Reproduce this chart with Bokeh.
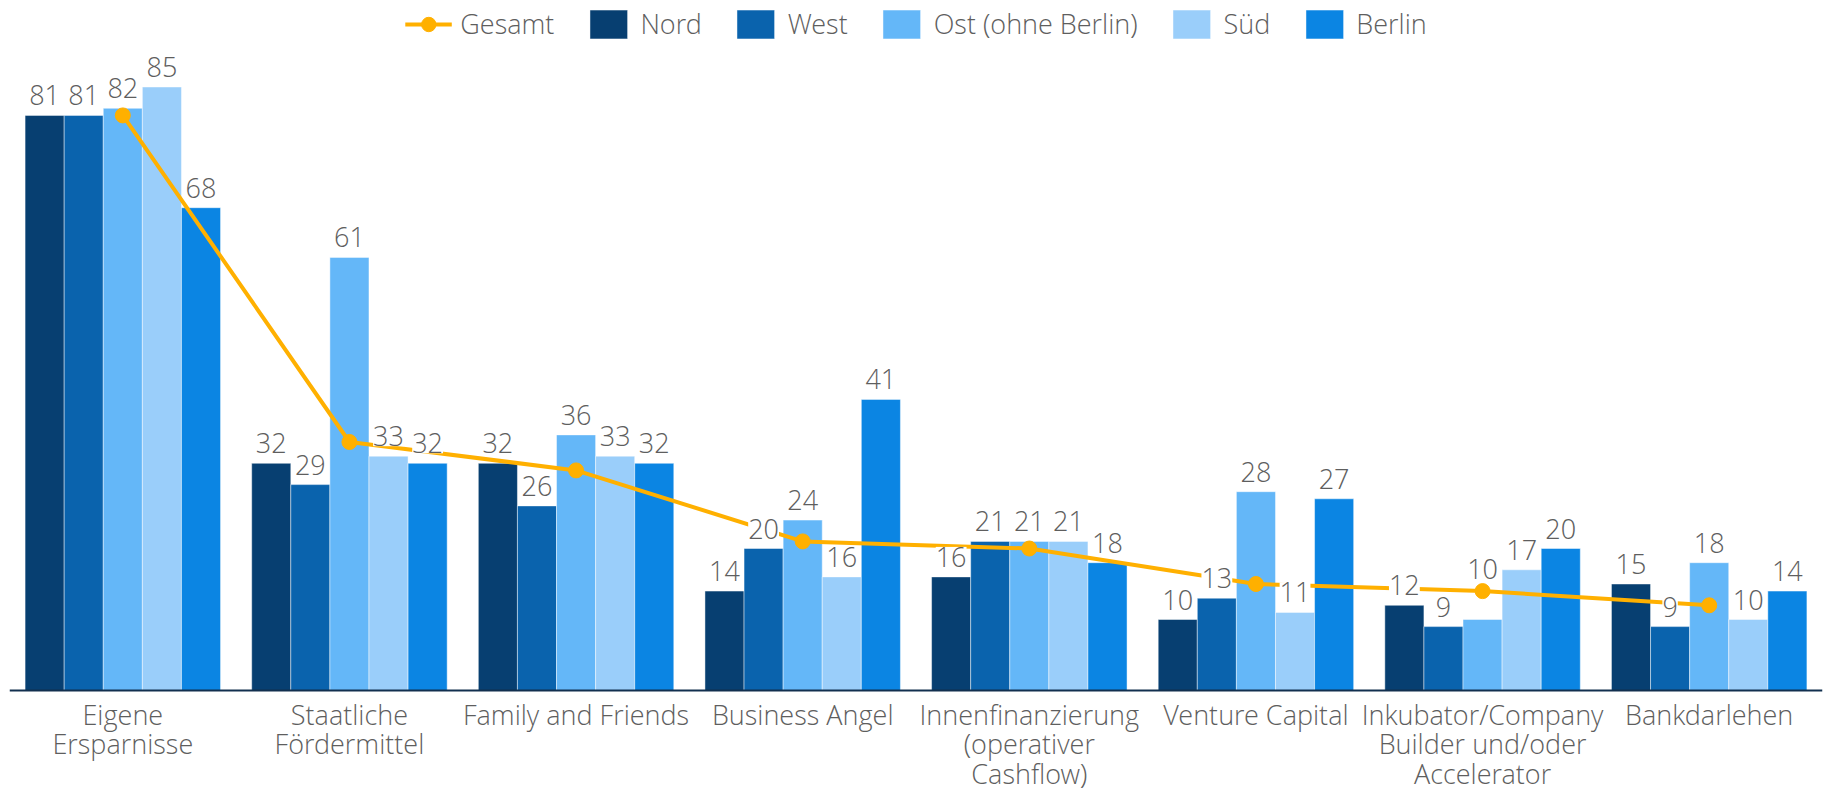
from bokeh.plotting import figure
from bokeh.models import (FactorRange, Range1d, ColumnDataSource, LabelSet, Legend,
                          LegendItem, Span)
from bokeh.transform import dodge
from bokeh.core.properties import value
from bokeh.embed import file_html
from bokeh.resources import INLINE

categories = [
    "Eigene Ersparnisse",
    "Staatliche Fördermittel",
    "Family and Friends",
    "Business Angel",
    "Innenfinanzierung (operativer Cashflow)",
    "Venture Capital",
    "Inkubator/Company Builder und/oder Accelerator",
    "Bankdarlehen",
]
tick_labels = [
    "Eigene\nErsparnisse",
    "Staatliche\nFördermittel",
    "Family and Friends",
    "Business Angel",
    "Innenfinanzierung\n(operativer\nCashflow)",
    "Venture Capital",
    "Inkubator/Company\nBuilder und/oder\nAccelerator",
    "Bankdarlehen",
]
series_names = ["Nord", "West", "Ost (ohne Berlin)", "Süd", "Berlin"]
nord = [81, 32, 32, 14, 16, 10, 12, 15]
west = [81, 29, 26, 20, 21, 13, 9, 9]
ost = [82, 61, 36, 24, 21, 28, 10, 18]
sued = [85, 33, 33, 16, 21, 11, 17, 10]
berlin = [68, 32, 32, 41, 18, 27, 20, 14]
gesamt = [81, 35, 31, 21, 20, 15, 14, 12]

colors = ["#073f71", "#0a63ad", "#64b7f8", "#9acefa", "#0b85e3"]
line_color = "#ffb000"
text_color = "#5e5e5e"
FONT = "Open Sans Light, Open Sans"
FS = "27px"

W, H = 1825, 793
BASE = 690.0          # pixel row of the zero line
PXU = 7.1             # pixels per percent
LABEL_GAP = 10        # px between bar top and label baseline
# labels lifted to avoid the Gesamt marker (series field, category index) -> extra px
label_lift = {("ost", 6): 31}

data = dict(cat=categories, gesamt=gesamt)
fields = ["nord", "west", "ost", "sued", "berlin"]
for f, vals in zip(fields, [nord, west, ost, sued, berlin]):
    data[f] = vals
    data[f + "_txt"] = [str(v) for v in vals]
    data[f + "_off"] = [LABEL_GAP + label_lift.get((f, i), 0) for i in range(len(vals))]
source = ColumnDataSource(data)

p = figure(
    x_range=FactorRange(factors=categories, range_padding=0),
    y_range=Range1d(-(H - BASE) / PXU, BASE / PXU),
    width=W, height=H,
    output_backend="svg", toolbar_location=None,
    x_axis_location=None, y_axis_location=None,
    min_border_left=9, min_border_right=3, min_border_top=0, min_border_bottom=0,
    outline_line_color=None,
)
p.xgrid.visible = False
p.ygrid.visible = False

bw = 0.1725
offsets = [-2 * bw, -bw, 0.0, bw, 2 * bw]
bar_renderers = []
for f, c, off in zip(fields, colors, offsets):
    r = p.vbar(x=dodge("cat", off, range=p.x_range), top=f, bottom=0, width=bw, source=source,
               fill_color=c, line_color="white", line_width=1, line_alpha=0.45)
    bar_renderers.append(r)

baseline = Span(location=0, dimension="width", line_color="#12304f", line_width=2)
p.add_layout(baseline)

lr = p.line(x="cat", y="gesamt", source=source, line_color=line_color, line_width=4)
sr = p.scatter(x="cat", y="gesamt", source=source, size=15, fill_color=line_color,
               line_color=line_color)

for f, off in zip(fields, offsets):
    ls = LabelSet(x=dodge("cat", off, range=p.x_range), y=f, text=f + "_txt", source=source,
                  y_offset=f + "_off", text_align="center", text_baseline="alphabetic",
                  text_font=value(FONT), text_font_size=FS, text_color=text_color,
                  background_fill_color="white")
    p.add_layout(ls)

# category (tick) labels, one text per line, below the zero line
lx, ly, lt = [], [], []
for cat, lab in zip(categories, tick_labels):
    for i, line in enumerate(lab.split("\n")):
        lx.append(cat)
        ly.append(-(23.5 + 29.5 * i) / PXU)
        lt.append(line)
tick_src = ColumnDataSource(dict(x=lx, y=ly, text=lt))
p.text(x="x", y="y", text="text", source=tick_src, text_align="center",
       text_baseline="middle", text_font=value(FONT), text_font_size=FS,
       text_color=text_color)

items = [LegendItem(label="Gesamt", renderers=[lr, sr])]
for name, r in zip(series_names, bar_renderers):
    items.append(LegendItem(label=name, renderers=[r]))
legend = Legend(items=items, location="top_center", orientation="horizontal",
                glyph_width=47, glyph_height=36, label_standoff=9, spacing=30,
                padding=0, margin=5, border_line_alpha=0, background_fill_alpha=0,
                label_text_font=FONT, label_text_font_size=FS,
                label_text_color=text_color)
p.add_layout(legend)

open("out.html", "w").write(file_html(p, INLINE))
